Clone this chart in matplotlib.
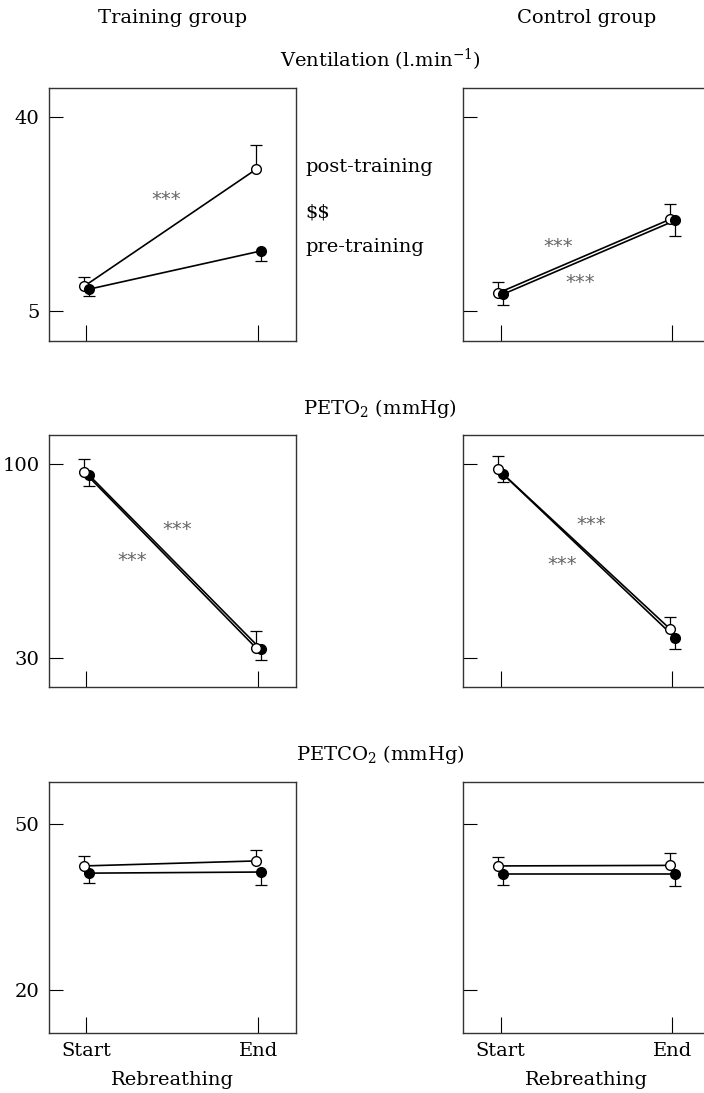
import numpy as np
import matplotlib
matplotlib.use('Agg')
import matplotlib.pyplot as plt

plt.rcParams['font.family'] = ['DejaVu Serif']
plt.rcParams['mathtext.fontset'] = 'dejavuserif'

# rebreathing phases
phases = ['Start', 'End']

# Ventilation (l/min), open = post-training, filled = pre-training
vent_train_post = [9.5, 30.6]
vent_train_post_se = [1.7, 4.4]
vent_train_pre = [9.0, 15.9]
vent_train_pre_se = [1.3, 1.9]
vent_ctrl_post = [8.3, 21.6]
vent_ctrl_post_se = [2.0, 2.7]
vent_ctrl_pre = [8.1, 21.4]
vent_ctrl_pre_se = [2.0, 2.8]

# PETO2 (mmHg)
peto2_train_post = [97.1, 33.6]
peto2_train_post_se = [4.6, 6.1]
peto2_train_pre = [95.9, 33.0]
peto2_train_pre_se = [4.0, 4.0]
peto2_ctrl_post = [98.0, 40.4]
peto2_ctrl_post_se = [4.8, 4.2]
peto2_ctrl_pre = [96.2, 37.2]
peto2_ctrl_pre_se = [2.8, 4.2]

# PETCO2 (mmHg)
petco2_train_post = [42.4, 43.3]
petco2_train_post_se = [1.8, 2.0]
petco2_train_pre = [41.1, 41.3]
petco2_train_pre_se = [1.8, 2.3]
petco2_ctrl_post = [42.4, 42.5]
petco2_ctrl_post_se = [1.6, 2.3]
petco2_ctrl_pre = [40.9, 40.9]
petco2_ctrl_pre_se = [1.9, 2.2]

W, H = 704, 1093
fig = plt.figure(figsize=(W / 100, H / 100), dpi=100)

FS = 14
off = 0.015


def px_axes(x0, top, w, bottom):
    return fig.add_axes([x0 / W, 1 - bottom / H, w / W, (bottom - top) / H])


def draw(ax, post, post_se, pre, pre_se, ylim, yticks, ylabels, xlabels, open_top):
    x = np.arange(len(phases))
    post = np.array(post); pre = np.array(pre)
    zo_open, zo_fill = (5, 4) if open_top else (4, 5)
    # error bars: open up, filled down
    xo = x - off
    xf = x + off
    ax.vlines(xo, post, post + np.array(post_se), color='k', lw=0.9, zorder=2)
    ax.plot(xo, post + np.array(post_se), ls='none', marker='_', ms=8, mew=0.9, color='k', zorder=2)
    ax.vlines(xf, pre - np.array(pre_se), pre, color='k', lw=0.9, zorder=2)
    ax.plot(xf, pre - np.array(pre_se), ls='none', marker='_', ms=8, mew=0.9, color='k', zorder=2)
    ax.plot(xo, post, '-', color='k', lw=1.2, zorder=3)
    ax.plot(xf, pre, '-', color='k', lw=1.2, zorder=3)
    ax.plot(xo, post, 'o', ms=7, mfc='white', mec='k', mew=1.0, zorder=zo_open)
    ax.plot(xf, pre, 'o', ms=7, mfc='k', mec='k', mew=1.0, zorder=zo_fill)

    ax.set_xlim(-0.2164, 1.217)
    ax.set_ylim(*ylim)
    ax.set_xticks(x)
    ax.set_yticks(yticks)
    if xlabels:
        ax.set_xticklabels(phases, fontsize=FS)
        ax.set_xlabel('Rebreathing', fontsize=FS, labelpad=8)
    else:
        ax.set_xticklabels([])
    if ylabels:
        ax.set_yticklabels([str(t) for t in yticks], fontsize=FS)
    else:
        ax.set_yticklabels([])
    ax.tick_params(axis='x', direction='in', length=11.5, width=0.8, pad=6)
    ax.tick_params(axis='y', direction='in', length=10, width=0.8, pad=7)
    for s in ax.spines.values():
        s.set_linewidth(1.0)
        s.set_color('#333333')


def stars(ax, x, y):
    ax.text(x, y, '***', fontsize=14, color='#666666', ha='center', va='center',
            family='DejaVu Sans')


LX, RX, PW = 49.3, 463.4, 246.4
rows = [(87.5, 340.7), (435.0, 687.0), (781.7, 1033.3)]

# row 1: ventilation
a = px_axes(LX, rows[0][0], PW, rows[0][1])
draw(a, vent_train_post, vent_train_post_se, vent_train_pre, vent_train_pre_se,
     (-0.3, 45.4), [5, 40], True, False, False)
stars(a, 0.466, 25.2)
b = px_axes(RX, rows[0][0], PW, rows[0][1])
draw(b, vent_ctrl_post, vent_ctrl_post_se, vent_ctrl_pre, vent_ctrl_pre_se,
     (-0.3, 45.4), [5, 40], False, False, False)
stars(b, 0.335, 16.7)
stars(b, 0.461, 10.25)

# row 2: PETO2
a = px_axes(LX, rows[1][0], PW, rows[1][1])
draw(a, peto2_train_post, peto2_train_post_se, peto2_train_pre, peto2_train_pre_se,
     (19.4, 110.4), [30, 100], True, False, True)
stars(a, 0.53, 76.3)
stars(a, 0.268, 65.25)
b = px_axes(RX, rows[1][0], PW, rows[1][1])
draw(b, peto2_ctrl_post, peto2_ctrl_post_se, peto2_ctrl_pre, peto2_ctrl_pre_se,
     (19.4, 110.4), [30, 100], False, False, True)
stars(b, 0.529, 78.1)
stars(b, 0.361, 63.7)

# row 3: PETCO2
a = px_axes(LX, rows[2][0], PW, rows[2][1])
draw(a, petco2_train_post, petco2_train_post_se, petco2_train_pre, petco2_train_pre_se,
     (12.2, 57.6), [20, 50], True, True, True)
b = px_axes(RX, rows[2][0], PW, rows[2][1])
draw(b, petco2_ctrl_post, petco2_ctrl_post_se, petco2_ctrl_pre, petco2_ctrl_pre_se,
     (12.2, 57.6), [20, 50], False, True, True)

# headings
fig.text(172.5 / W, 1 - 18 / H, 'Training group', fontsize=FS, ha='center', va='center')
fig.text(587 / W, 1 - 18 / H, 'Control group', fontsize=FS, ha='center', va='center')
fig.text(380 / W, 1 - 60 / H, 'Ventilation (l.min$^{-1}$)', fontsize=FS, ha='center', va='center')
fig.text(380 / W, 1 - 409 / H, 'PETO$_2$ (mmHg)', fontsize=FS, ha='center', va='center')
fig.text(380 / W, 1 - 755 / H, 'PETCO$_2$ (mmHg)', fontsize=FS, ha='center', va='center')

# legend-like labels next to the first panel
fig.text(305 / W, 1 - 167 / H, 'post-training', fontsize=FS, ha='left', va='center')
fig.text(305 / W, 1 - 213 / H, r'\$\$', fontsize=FS, ha='left', va='center')
fig.text(305 / W, 1 - 247 / H, 'pre-training', fontsize=FS, ha='left', va='center')

fig.savefig('out.png', dpi=100)
